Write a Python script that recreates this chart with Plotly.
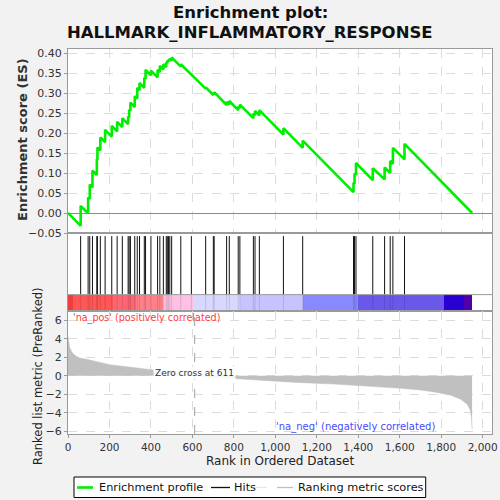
"""GSEA enrichment plot for HALLMARK_INFLAMMATORY_RESPONSE."""

import plotly.graph_objects as go
from plotly.subplots import make_subplots

# ranks of the gene-set members in the ordered list
hit_ranks = [61, 97, 105, 118, 139, 142, 156, 179, 211, 237, 262, 290, 295, 301,
             322, 334, 345, 368, 374, 400, 432, 443, 460, 474, 479, 485, 491, 500,
             544, 595, 664, 701, 705, 765, 778, 821, 829, 894, 902, 923, 1039,
             1132, 1377, 1382, 1389, 1470, 1527, 1554, 1567, 1623]

# running enrichment score just before and just after each hit
es_before = [-0.032, -0.001, 0.035, 0.064, 0.095, 0.133, 0.157, 0.177, 0.191,
             0.204, 0.215, 0.222, 0.238, 0.255, 0.265, 0.286, 0.307, 0.313,
             0.335, 0.344, 0.339, 0.352, 0.359, 0.365, 0.374, 0.378, 0.381,
             0.381, 0.366, 0.345, 0.311, 0.295, 0.297, 0.270, 0.271, 0.257,
             0.262, 0.237, 0.244, 0.244, 0.196, 0.163, 0.052, 0.073, 0.095,
             0.082, 0.084, 0.100, 0.123, 0.134]
es_after = [0.018, 0.039, 0.071, 0.106, 0.135, 0.164, 0.189, 0.208, 0.218,
            0.228, 0.237, 0.241, 0.258, 0.276, 0.292, 0.313, 0.325, 0.338,
            0.358, 0.356, 0.358, 0.368, 0.372, 0.377, 0.381, 0.384, 0.386,
            0.389, 0.372, 0.347, 0.314, 0.299, 0.302, 0.278, 0.280, 0.266,
            0.271, 0.248, 0.255, 0.257, 0.212, 0.181, 0.076, 0.099, 0.125,
            0.112, 0.114, 0.130, 0.163, 0.173]
n_genes = 1949

# ranked list metric, sampled along the ordered list
metric_rank = [0, 2, 8, 15, 24, 40, 56, 90, 121, 201, 314, 411, 500, 611, 700,
               797, 960, 1100, 1282, 1400, 1604, 1700, 1766, 1846, 1894, 1926,
               1940, 1946, 1949]
metric_value = [4.2, 3.8, 3.1, 2.7, 2.4, 2.1, 1.93, 1.78, 1.64, 1.2, 0.9, 0.62,
                0.35, 0.0, -0.18, -0.3, -0.55, -0.72, -0.9, -1.05, -1.35, -1.55,
                -1.75, -2.1, -2.55, -3.1, -3.7, -4.5, -5.8]
zero_cross = 611

# colour blocks of the correlation bar under the hits
bar_start = [0, 24, 218, 330, 459, 604, 829, 1132, 1401, 1812, 1908]
bar_end = [24, 218, 330, 459, 604, 829, 1132, 1401, 1812, 1908, 1949]
bar_colors = ["#f03c3c", "#ff5656", "#ff6674", "#ff8088", "#ffc0e4", "#d8d8ff",
              "#c8c2ff", "#8888ff", "#6a58ea", "#2a00d2", "#5000aa"]

es_ticks = [-0.05, 0.0, 0.05, 0.10, 0.15, 0.20, 0.25, 0.30, 0.35, 0.40]
metric_ticks = [-6, -4, -2, 0, 2, 4, 6]
rank_ticks = [0, 200, 400, 600, 800, 1000, 1200, 1400, 1600, 1800, 2000]

legend_names = ["Enrichment profile", "Hits", "", "Ranking metric scores"]
legend_colors = ["#00ee00", "#111111", "#e6e6e6", "#c0c0c0"]

FONT = "DejaVu Sans"
GRID = "#dcdcdc"
FRAME = "#9a9a9a"

# plot area in pixels (left, right, top, bottom)
L, R, T, B = 68, 492, 49, 434


def px(xp):
    return (xp - L) / (R - L)


def py(yp):
    return (B - yp) / (B - T)


def label(fig, xp, yp, text, size, color, **kw):
    opts = dict(xanchor="center", yanchor="middle")
    opts.update(kw)
    fig.add_annotation(x=px(xp), y=py(yp), xref="paper", yref="paper", text=text,
                       showarrow=False, font={"family": FONT, "size": size, "color": color},
                       **opts)


fig = make_subplots(
    rows=3,
    cols=1,
    shared_xaxes=True,
    vertical_spacing=0,
    row_heights=[184 / 385, 78 / 385, 123 / 385],
)

# enrichment profile
es_x = [0]
es_y = [0.0]
for r, b, a in zip(hit_ranks, es_before, es_after):
    es_x += [r, r]
    es_y += [b, a]
es_x.append(n_genes)
es_y.append(0.0)
fig.add_trace(
    go.Scatter(x=es_x, y=es_y, mode="lines", line={"color": "#00ee00", "width": 2.6},
               hoverinfo="skip"),
    row=1, col=1,
)

# correlation colour bar
fig.add_trace(
    go.Bar(
        x=[(s + e) / 2 for s, e in zip(bar_start, bar_end)],
        y=[0.21] * len(bar_start),
        width=[e - s for s, e in zip(bar_start, bar_end)],
        marker={"color": bar_colors, "line": {"width": 0}},
        hoverinfo="skip",
    ),
    row=2, col=1,
)

# hits, with a faint trace of each one through the colour bar
hx, hy, sx, sy = [], [], [], []
for r in hit_ranks:
    hx += [r, r, None]
    hy += [0.21, 0.96, None]
    sx += [r, r, None]
    sy += [0.0, 0.21, None]
fig.add_trace(
    go.Scatter(x=sx, y=sy, mode="lines", line={"color": "rgba(0,0,0,0.12)", "width": 1},
               hoverinfo="skip"),
    row=2, col=1,
)
fig.add_trace(
    go.Scatter(x=hx, y=hy, mode="lines", line={"color": "#111111", "width": 1},
               hoverinfo="skip"),
    row=2, col=1,
)

# ranked list metric
fig.add_trace(
    go.Scatter(x=metric_rank, y=metric_value, mode="lines", fill="tozeroy",
               fillcolor="#c0c0c0", line={"color": "#c0c0c0", "width": 0.5},
               hoverinfo="skip"),
    row=3, col=1,
)

axis_common = dict(
    showline=True, linecolor=FRAME, linewidth=1, mirror=True, automargin=False,
    tickfont={"family": FONT, "size": 11, "color": "#333333"},
)

for i in (1, 2, 3):
    fig.update_xaxes(range=[0, 2045], tickvals=rank_ticks, tickformat=",d",
                     showgrid=(i != 2), gridcolor=GRID, griddash="dash",
                     zeroline=False, ticks="", row=i, col=1, **axis_common)
fig.update_xaxes(showticklabels=True, ticks="outside", tickcolor=FRAME, ticklen=3,
                 tickfont={"family": FONT, "size": 10.5, "color": "#333333"},
                 row=3, col=1)

fig.update_yaxes(range=[-0.05, 0.41], tickvals=es_ticks, tickformat=".2f",
                 showgrid=True, gridcolor=GRID, griddash="dash",
                 zeroline=True, zerolinecolor="#8a8a8a", zerolinewidth=1,
                 ticks="outside", tickcolor=FRAME, ticklen=3,
                 row=1, col=1, **axis_common)
fig.update_yaxes(range=[0, 1], showticklabels=False, showgrid=False,
                 zeroline=False, ticks="", row=2, col=1, **axis_common)
fig.update_yaxes(range=[-6.3, 7.0], tickvals=metric_ticks, showgrid=True,
                 gridcolor=GRID, griddash="dash", zeroline=False,
                 ticks="outside", tickcolor=FRAME, ticklen=3,
                 row=3, col=1, **axis_common)

# separator above colour bar and zero-cross marker
fig.add_shape(type="line", xref="x2 domain", yref="y2", x0=0, x1=1, y0=0.21, y1=0.21,
              line={"color": FRAME, "width": 1})
fig.add_shape(type="line", xref="x3", yref="y3 domain", x0=zero_cross, x1=zero_cross,
              y0=0, y1=1, line={"color": "#a0a0a0", "width": 1, "dash": "dash"})

fig.add_annotation(x=zero_cross, y=0.3, xref="x3", yref="y3",
                   text="Zero cross at " + str(zero_cross), showarrow=False,
                   xanchor="center", yanchor="middle",
                   font={"family": FONT, "size": 9, "color": "#333333"},
                   bgcolor="rgba(255,255,255,0.85)")
label(fig, 71, 318, "'na_pos' (positively correlated)", 9.6, "#ff3b3b", xanchor="left")
label(fig, 355.5, 427, "'na_neg' (negatively correlated)", 10, "#4a4aff")

# titles
label(fig, 250, 13, "<b>Enrichment plot:</b>", 16.5, "#111111")
label(fig, 250, 33, "<b>HALLMARK_INFLAMMATORY_RESPONSE</b>", 16.5, "#111111")
label(fig, 22, 140, "<b>Enrichment score (ES)</b>", 13, "#333333", textangle=-90)
label(fig, 38, 376, "Ranked list metric (PreRanked)", 11.5, "#222222", textangle=-90)
label(fig, 280, 461, "Rank in Ordered Dataset", 12, "#222222")

# legend box drawn by hand to keep its compact layout
fig.add_shape(type="rect", xref="paper", yref="paper", x0=px(74), x1=px(425.7),
              y0=py(477), y1=py(497.5), fillcolor="#ffffff",
              line={"color": "#000000", "width": 1})
sym_x = [(77, 93), (211, 230), (253, 267), (277, 293)]
text_x = [97, 232, 268, 296]
for name, color, (a, b), t in zip(legend_names, legend_colors, sym_x, text_x):
    fig.add_shape(type="line", xref="paper", yref="paper", x0=px(a), x1=px(b),
                  y0=py(487.5), y1=py(487.5),
                  line={"color": color, "width": 2.6 if color == "#00ee00" else 1.3})
    if name:
        label(fig, t, 487.5, name, 11.3, "#111111", xanchor="left")

fig.update_layout(
    width=500,
    height=500,
    margin={"l": L, "r": 500 - R, "t": T, "b": 500 - B, "autoexpand": False},
    paper_bgcolor="#f2f2f2",
    plot_bgcolor="#ffffff",
    bargap=0,
    showlegend=False,
    font={"family": FONT},
)

# the page's default body margin would shift the figure by 8px
fig.write_html("out.html", config={"displayModeBar": False},
               post_script="document.body.style.margin='0';")
